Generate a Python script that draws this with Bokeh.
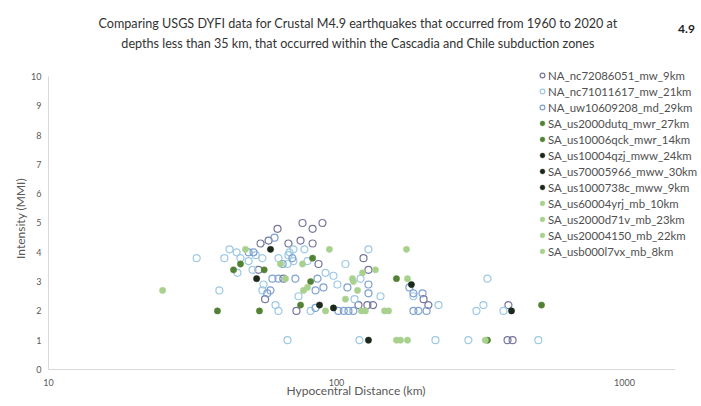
from bokeh.plotting import figure
from bokeh.layouts import column
from bokeh.models import Range1d, FixedTicker, Title, Label, BasicTickFormatter
from bokeh.embed import file_html
from bokeh.resources import INLINE

# ---------------- data (hypocentral distance km, intensity MMI) ----------------
na_nc72086051_dist = [53.6, 54.5, 58.1, 62.4, 65.4, 56.5, 76.2, 82.6, 89.4, 75.0, 82.6, 68.1,
                      86.6, 72.6, 124.1, 129.1, 200.6, 208.5, 395.4, 119.2, 128.0, 134.0, 392.6, 408.6]
na_nc72086051_mmi = [3.4, 4.3, 4.4, 4.8, 3.1, 2.4, 5.0, 4.8, 5.0, 4.4, 4.3, 4.3,
                     3.6, 2.0, 3.8, 3.4, 2.4, 2.2, 2.2, 2.2, 2.2, 2.2, 1.0, 1.0]

na_nc71011617_dist = [32.7, 39.2, 67.6, 40.8, 42.5, 45.0, 45.3, 49.5, 52.4, 46.4, 51.1, 55.3,
                      55.3, 61.4, 62.9, 55.8, 70.9, 68.7, 77.4, 62.9, 68.1, 70.9, 67.6, 79.3,
                      91.6, 97.6, 73.8, 81.3, 107.4, 129.1, 121.2, 115.5, 142.2, 185.0, 226.1,
                      334.3, 323.7, 380.0, 306.2, 120.2, 220.6, 287.1, 502.0, 100.7]
na_nc71011617_mmi = [3.8, 2.7, 1.0, 3.8, 4.1, 4.0, 3.3, 3.7, 3.9, 3.8, 3.4, 3.8,
                     2.7, 2.2, 2.0, 2.9, 4.1, 4.0, 4.1, 3.8, 3.9, 3.7, 3.6, 3.7,
                     3.3, 3.2, 2.5, 2.0, 3.6, 4.1, 3.1, 2.4, 2.5, 2.5, 2.2,
                     3.1, 2.2, 2.0, 2.0, 1.0, 1.0, 1.0, 1.0, 2.9]

na_uw10609208_dist = [49.5, 51.5, 60.9, 59.9, 62.9, 57.5, 59.0, 70.3, 65.0, 72.0, 85.9, 84.6,
                      90.1, 84.6, 101.6, 106.0, 110.0, 114.5, 109.1, 129.1, 129.1, 179.1,
                      185.0, 198.9, 185.0, 192.6, 205.5]
na_uw10609208_mmi = [4.0, 4.0, 4.5, 3.1, 3.1, 2.6, 2.7, 3.8, 3.6, 3.1, 3.1, 2.7,
                     2.8, 2.1, 2.0, 2.0, 2.0, 2.0, 2.8, 2.9, 2.6, 2.8,
                     2.6, 2.6, 2.0, 2.0, 2.0]

sa_us2000dutq_dist = [46.4, 43.9, 56.1, 82.6, 161.5, 515.0]
sa_us2000dutq_mmi = [3.6, 3.4, 3.4, 3.8, 3.1, 2.2]
sa_us10006qck_dist = [38.6, 54.0, 81.3, 75.0, 334.3]
sa_us10006qck_mmi = [2.0, 2.0, 3.0, 2.2, 1.0]
sa_us10004qzj_dist = [59.0, 87.3, 182.0]
sa_us10004qzj_mmi = [4.1, 2.2, 2.9]
sa_us70005966_dist = [52.8, 405.2]
sa_us70005966_mmi = [3.1, 2.0]
sa_us1000738c_dist = [97.6, 129.1]
sa_us1000738c_mmi = [2.1, 1.0]
sa_us60004yrj_dist = [24.9, 48.3, 63.9, 66.5, 76.8, 91.6]
sa_us60004yrj_mmi = [2.7, 4.1, 3.6, 3.1, 2.7, 2.0]
sa_us2000d71v_dist = [94.5, 76.2, 79.3, 114.5, 118.3, 107.4, 122.0]
sa_us2000d71v_mmi = [4.1, 3.6, 2.8, 3.0, 2.7, 2.4, 2.0]
sa_us20004150_dist = [175.0, 136.5, 123.1, 113.6, 176.4, 146.8, 151.6, 126.0]
sa_us20004150_mmi = [4.1, 3.4, 3.3, 3.1, 3.1, 2.0, 2.0, 2.0]
sa_usb000l7vx_dist = [161.5, 166.8, 176.4, 328.6]
sa_usb000l7vx_mmi = [1.0, 1.0, 1.0, 1.0]

x_ticks = [10, 100, 1000]
y_ticks = [0, 1, 2, 3, 4, 5, 6, 7, 8, 9, 10]
x_axis_min, x_axis_max = 10, 1500
y_axis_min, y_axis_max = 0, 10

title_line1 = "Comparing USGS DYFI data for Crustal M4.9 earthquakes that occurred from 1960 to 2020 at"
title_line2 = "depths less than 35 km, that occurred within the Cascadia and Chile subduction zones"
corner_text = "4.9"
x_label = "Hypocentral Distance (km)"
y_label = "Intensity (MMI)"

# (label, x, y, color, open?)
series = [
    ("NA_nc72086051_mw_9km", na_nc72086051_dist, na_nc72086051_mmi, "#76769e", True),
    ("NA_nc71011617_mw_21km", na_nc71011617_dist, na_nc71011617_mmi, "#9cc9e4", True),
    ("NA_uw10609208_md_29km", na_uw10609208_dist, na_uw10609208_mmi, "#7ea1cf", True),
    ("SA_us2000dutq_mwr_27km", sa_us2000dutq_dist, sa_us2000dutq_mmi, "#548235", False),
    ("SA_us10006qck_mwr_14km", sa_us10006qck_dist, sa_us10006qck_mmi, "#548235", False),
    ("SA_us10004qzj_mww_24km", sa_us10004qzj_dist, sa_us10004qzj_mmi, "#1b2a1b", False),
    ("SA_us70005966_mww_30km", sa_us70005966_dist, sa_us70005966_mmi, "#1b2a1b", False),
    ("SA_us1000738c_mww_9km", sa_us1000738c_dist, sa_us1000738c_mmi, "#1b2a1b", False),
    ("SA_us60004yrj_mb_10km", sa_us60004yrj_dist, sa_us60004yrj_mmi, "#a9d18e", False),
    ("SA_us2000d71v_mb_23km", sa_us2000d71v_dist, sa_us2000d71v_mmi, "#a9d18e", False),
    ("SA_us20004150_mb_22km", sa_us20004150_dist, sa_us20004150_mmi, "#a9d18e", False),
    ("SA_usb000l7vx_mb_8km", sa_usb000l7vx_dist, sa_usb000l7vx_mmi, "#a9d18e", False),
]

FONT = "Lato"
GRAY = "#595959"
W = 700
HEAD_H = 66
LEFT = 47   # left border shared by both figures so their frames line up

# ---------------- header (titles) ----------------
head = figure(width=W, height=HEAD_H, x_range=Range1d(0, 1), y_range=Range1d(0, 1),
              x_axis_location=None, y_axis_location=None, title=None,
              output_backend="svg", toolbar_location=None,
              min_border_left=LEFT, min_border_right=0, min_border_top=0, min_border_bottom=0)
head.outline_line_color = None
head.xgrid.grid_line_color = None
head.ygrid.grid_line_color = None
head.add_layout(Label(x=357.5 - LEFT, y=HEAD_H - 23, x_units="screen", y_units="screen", text=title_line1,
                      text_font=FONT, text_font_size="12.6px", text_color="#333333",
                      text_align="center", text_baseline="middle"))
head.add_layout(Label(x=357.5 - LEFT, y=HEAD_H - 43, x_units="screen", y_units="screen", text=title_line2,
                      text_font=FONT, text_font_size="12.6px", text_color="#333333",
                      text_align="center", text_baseline="middle"))
head.add_layout(Label(x=686 - LEFT, y=HEAD_H - 28, x_units="screen", y_units="screen", text=corner_text,
                      text_font=FONT, text_font_size="12px", text_font_style="bold",
                      text_color="#222222", text_align="center", text_baseline="middle"))

# ---------------- main chart ----------------
p = figure(width=W, height=338, x_axis_type="log", title=None,
           x_range=Range1d(9.92, 1836), y_range=Range1d(-0.034, 10.34),
           output_backend="svg", toolbar_location=None,
           min_border_left=LEFT, min_border_right=0, min_border_top=0, min_border_bottom=34)

p.outline_line_color = None
p.xgrid.grid_line_color = None
p.ygrid.grid_line_color = None

for ax in (p.xaxis[0], p.yaxis[0]):
    ax.axis_line_color = None
    ax.major_tick_line_color = None
    ax.minor_tick_line_color = None
    ax.major_tick_out = 0
    ax.major_tick_in = 0
    ax.minor_tick_out = 0
    ax.minor_tick_in = 0
    ax.major_label_text_font = FONT
    ax.major_label_text_font_size = "9px"
    ax.major_label_text_color = GRAY

p.xaxis.ticker = FixedTicker(ticks=x_ticks)
p.xaxis.formatter = BasicTickFormatter()
p.xaxis.major_label_overrides = {t: str(t) for t in x_ticks}
p.xaxis.major_label_standoff = 8
p.yaxis.ticker = FixedTicker(ticks=y_ticks)
p.yaxis.major_label_standoff = 6
p.yaxis.axis_label = y_label
p.yaxis.axis_label_standoff = 0
p.yaxis.axis_label_text_font = FONT
p.yaxis.axis_label_text_font_size = "12px"
p.yaxis.axis_label_text_color = GRAY
p.yaxis.axis_label_text_font_style = "normal"

p.add_layout(Title(text=x_label, align="left", offset=239, vertical_align="top", standoff=-11,
                   text_font=FONT, text_font_size="12px", text_color=GRAY,
                   text_font_style="normal"), "below")

# axis lines (light gray), spanning the axis extents like the original
p.segment(x0=[x_axis_min], y0=[y_axis_min], x1=[x_axis_max], y1=[y_axis_min],
          line_color="#d9d9d9", line_width=1)
p.segment(x0=[x_axis_min], y0=[y_axis_min], x1=[x_axis_min], y1=[y_axis_max],
          line_color="#d9d9d9", line_width=1)

for label, xs, ys, color, is_open in series:
    if is_open:
        p.scatter(xs, ys, marker="circle", size=7, fill_color=None,
                  line_color=color, line_width=1.2, legend_label=label)
    else:
        p.scatter(xs, ys, marker="circle", size=6.3, fill_color=color,
                  line_color=color, line_width=0.5, legend_label=label)

lg = p.legend[0]
lg.location = (489, 111)
lg.margin = 0
lg.padding = 0
lg.spacing = 0
lg.glyph_width = 12
lg.glyph_height = 16
lg.label_height = 16
lg.label_standoff = 0
lg.label_text_font = FONT
lg.label_text_font_size = "11.4px"
lg.label_text_color = "#505050"
lg.border_line_color = None
lg.background_fill_alpha = 0

layout = column(head, p, spacing=0)
open("out.html", "w").write(file_html(layout, INLINE))
